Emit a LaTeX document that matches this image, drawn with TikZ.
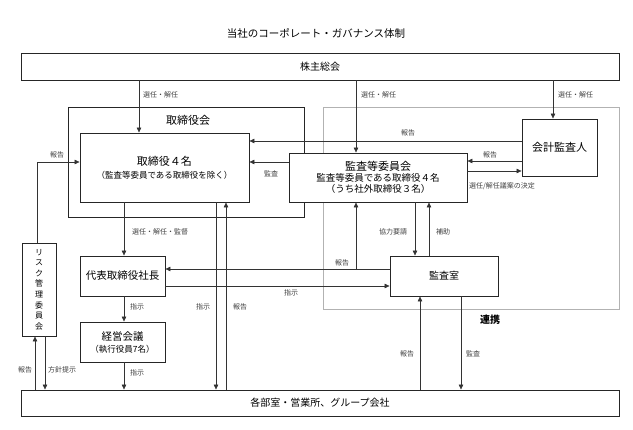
\documentclass[tikz,border=0pt]{standalone}
\usepackage{fontspec}
\setmainfont{Noto Sans CJK JP}
\usetikzlibrary{arrows.meta}
\begin{document}
\begin{tikzpicture}[x=1pt,y=-1pt,
  box/.style={draw=black!85,line width=0.9pt,fill=white,inner sep=0pt,align=center,font=\fontsize{10}{12}\selectfont},
  zone/.style={inner sep=0pt},
  conn/.style={draw=black!80,line width=0.6pt},
  arr/.style={conn,-{Triangle[length=5pt,width=4.5pt]}},
  lbl/.style={font=\fontsize{7}{8}\selectfont,text=black!75,inner sep=0pt},
]
\useasboundingbox (0,0) rectangle (633,430);

% title
\node[font=\fontsize{10.5}{12}\selectfont] (title) at (316,33) {当社のコーポレート・ガバナンス体制};

% background zones
\node[zone,draw=gray!60,line width=0.7pt,minimum width=296pt,minimum height=202pt] (acz) at (471,208) {};
\node[zone,draw=black!85,line width=0.9pt,minimum width=236pt,minimum height=110pt] (bod) at (186,162) {};
\node[font=\fontsize{11}{12}\selectfont] (bodt) at (188,120) {取締役会};

% boxes
\node[box,minimum width=598pt,minimum height=27pt] (sh) at (320,66.5) {株主総会};
\node[box,minimum width=169pt,minimum height=69pt] (tori) at (164.5,167.5)
  {{\fontsize{11}{13}\selectfont 取締役４名}\\[1pt]{\fontsize{8.5}{10}\selectfont （監査等委員である取締役を除く）}};
\node[box,minimum width=75pt,minimum height=57pt,font=\fontsize{11}{13}\selectfont] (kaikei) at (559.5,147.5) {会計監査人};
\node[box,minimum width=178pt,minimum height=49pt,font=\fontsize{9.5}{11}\selectfont] (kansa) at (378,177.5)
  {{\fontsize{11}{13}\selectfont 監査等委員会}\\[0pt]監査等委員である取締役４名\\（うち社外取締役３名）};
\node[box,minimum width=85pt,minimum height=40pt,font=\fontsize{10.5}{12}\selectfont] (daihyo) at (122.5,276) {代表取締役社長};
\node[box,minimum width=85pt,minimum height=40pt] (keiei) at (122.5,342)
  {{\fontsize{10.5}{12}\selectfont 経営会議}\\{\fontsize{8.5}{10}\selectfont （執行役員7名）}};
\node[box,minimum width=34pt,minimum height=93pt,font=\fontsize{8}{10.6}\selectfont] (risk) at (39,289.5)
  {リ\\ス\\ク\\管\\理\\委\\員\\会};
\node[box,minimum width=108pt,minimum height=40pt] (kansashitsu) at (444,276) {監査室};
\node[box,minimum width=598pt,minimum height=26pt] (bu) at (320,403) {各部室・営業所、グループ会社};

% helper coordinates
\coordinate (vA) at (139,0);
\coordinate (vB) at (356,0);
\coordinate (vC) at (553,0);
\coordinate (vD) at (124,0);
\coordinate (vE) at (216,0);
\coordinate (vF) at (226,0);
\coordinate (vR1) at (37,0);
\coordinate (vR2) at (35,0);
\coordinate (vR3) at (45,0);
\coordinate (vH) at (415,0);
\coordinate (vI) at (429,0);
\coordinate (vJ) at (420,0);
\coordinate (vK) at (461,0);
\coordinate (h141) at (0,141);
\coordinate (h161) at (0,161);
\coordinate (h162) at (0,162);
\coordinate (h171) at (0,171);
\coordinate (h269) at (0,269);
\coordinate (h286) at (0,286);
\coordinate (br) at (356,269);

% connectors
\draw[arr] (sh.south -| vA) -- (tori.north -| vA);
\draw[arr] (sh.south -| vB) -- (kansa.north -| vB);
\draw[arr] (sh.south -| vC) -- (kaikei.north -| vC);
\draw[arr] (kaikei.west |- h141) -- (tori.east |- h141);
\draw[arr] (kaikei.west |- h161) -- (kansa.east |- h161);
\draw[arr] (kansa.east |- h171) -- (kaikei.west |- h171);
\draw[arr] (kansa.west |- h162) -- (tori.east |- h162);
\draw[arr] (tori.south -| vD) -- (daihyo.north -| vD);
\draw[arr] (tori.south -| vE) -- (bu.north -| vE);
\draw[arr] (bu.north -| vF) -- (tori.south -| vF);
\draw[arr] (daihyo.south -| vD) -- (keiei.north -| vD);
\draw[arr] (keiei.south -| vD) -- (bu.north -| vD);
\draw[arr] (risk.north -| vR1) |- (tori.west |- h162);
\draw[arr] (bu.north -| vR2) -- (risk.south -| vR2);
\draw[arr] (risk.south -| vR3) -- (bu.north -| vR3);
\draw[arr] (kansashitsu.west |- h269) -- (daihyo.east |- h269);
\draw[arr] (br) -- (kansa.south -| br);
\draw[arr] (daihyo.east |- h286) -- (kansashitsu.west |- h286);
\draw[arr] (kansa.south -| vH) -- (kansashitsu.north -| vH);
\draw[arr] (kansashitsu.north -| vI) -- (kansa.south -| vI);
\draw[arr] (bu.north -| vJ) -- (kansashitsu.south -| vJ);
\draw[arr] (kansashitsu.south -| vK) -- (bu.north -| vK);

% labels
\node[lbl,anchor=west] (t1) at (143,95) {選任・解任};
\node[lbl,anchor=west] (t2) at (361,95) {選任・解任};
\node[lbl,anchor=west] (t3) at (558,95) {選任・解任};
\node[lbl] (t4) at (408,133) {報告};
\node[lbl] (t5) at (490,155) {報告};
\node[lbl,anchor=west] (t6) at (469,186) {選任/解任議案の決定};
\node[lbl] (t7) at (271,174) {監査};
\node[lbl] (t8) at (57,155) {報告};
\node[lbl,anchor=west] (t9) at (132,232) {選任・解任・監督};
\node[lbl,anchor=west] (t10) at (130,307) {指示};
\node[lbl] (t11) at (203,307) {指示};
\node[lbl] (t12) at (240,307) {報告};
\node[lbl] (t13) at (291,293) {指示};
\node[lbl] (t14) at (342,263) {報告};
\node[lbl] (t15) at (393,232) {協力要請};
\node[lbl] (t16) at (443,232) {補助};
\node[lbl,anchor=west] (t17) at (130,373) {指示};
\node[lbl] (t18) at (25,370) {報告};
\node[lbl,anchor=west] (t19) at (48,370) {方針提示};
\node[lbl] (t20) at (407,354) {報告};
\node[lbl] (t21) at (473,354) {監査};
\node[font=\fontsize{10}{12}\selectfont\bfseries] (t22) at (490,320) {連携};
\end{tikzpicture}
\end{document}
